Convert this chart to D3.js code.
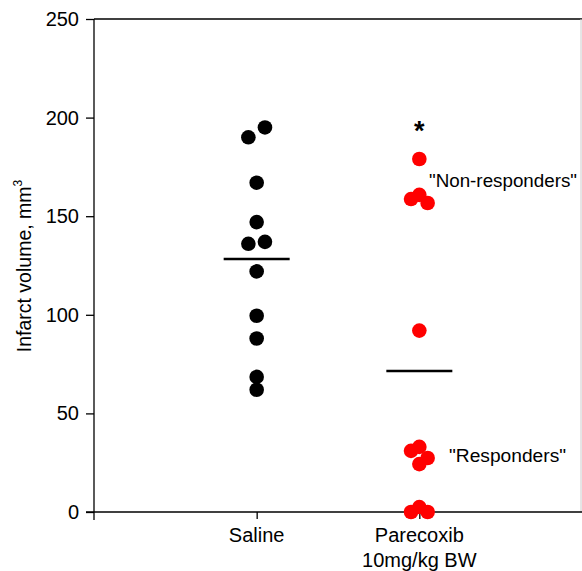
<!DOCTYPE html>
<html><head><meta charset="utf-8">
<script src="https://cdn.jsdelivr.net/npm/d3@7"></script>
<style>body{margin:0;background:#fff}svg{display:block}text{font-family:"Liberation Sans",Arial,sans-serif}</style>
</head><body>
<svg id="c" width="582" height="571"></svg>
<script>
const groups = ["Saline", "Parecoxib"];
const groupLabels = [["Saline"], ["Parecoxib", "10mg/kg BW"]];
const yTicks = [0, 50, 100, 150, 200, 250];
const salineValues = [190, 195, 167, 147, 136, 137, 122, 99.5, 88, 68.5, 62];
const salineJitter = [-1, 1, 0, 0, -1, 1, 0, 0, 0, 0, 0];
const parecoxibValues = [179, 160.8, 158.7, 156.7, 92, 31, 33, 27.4, 24.3, 0, 2.5, 0];
const parecoxibJitter = [0, 0, -1, 1, 0, -1, 0, 1, 0, -1, 0, 1];
const means = [128.3, 71.5];
const colors = ["#000000", "#ff0000"];

const svg = d3.select("#c");
const x = d3.scaleLinear().domain([0, 3]).range([94, 582]);
const y = d3.scaleLinear().domain([0, 250]).range([512, 19]);
const jit = 8.3;

svg.append("line").attr("x1", 94).attr("x2", 582).attr("y1", y(250)).attr("y2", y(250)).attr("stroke", "#000").attr("stroke-width", 1.3);
svg.append("line").attr("x1", 581).attr("x2", 581).attr("y1", y(250)).attr("y2", y(0)).attr("stroke", "#ccc").attr("stroke-width", 1);

const ya = svg.append("g").attr("transform", "translate(94,0)")
  .call(d3.axisLeft(y).tickValues(yTicks).tickSize(8).tickPadding(7).tickFormat(d3.format("d")));
ya.select(".domain").remove();
ya.append("line").attr("x1", 0).attr("x2", 0).attr("y1", y(250)).attr("y2", y(0) + 8).attr("stroke", "#000").attr("stroke-width", 1.3);
ya.selectAll(".tick line").attr("stroke-width", 1.3);
ya.selectAll(".tick text").attr("font-size", 20).attr("fill", "#000").attr("font-family", "Liberation Sans, Arial, sans-serif");

const xa = svg.append("g").attr("transform", `translate(0,${y(0)})`)
  .call(d3.axisBottom(x).tickValues([1, 2]).tickSize(7).tickFormat(() => ""));
xa.select(".domain").remove();
xa.append("line").attr("x1", 86).attr("x2", 582).attr("y1", 0).attr("y2", 0).attr("stroke", "#000").attr("stroke-width", 1.3);
xa.selectAll(".tick line").attr("stroke-width", 1.3);
groupLabels.forEach((lines, i) => {
  lines.forEach((t, j) => {
    svg.append("text").attr("x", x(i + 1)).attr("y", 542 + j * 25).attr("text-anchor", "middle")
      .attr("font-size", 20).attr("fill", "#000").text(t);
  });
});

const yl = svg.append("text").attr("transform", "translate(31,266) rotate(-90)").attr("text-anchor", "middle")
  .attr("font-size", 19.5).attr("fill", "#000");
yl.append("tspan").text("Infarct volume, mm");
yl.append("tspan").attr("font-size", 12).attr("dy", -9).text("3");

const series = [[salineValues, salineJitter], [parecoxibValues, parecoxibJitter]];
series.forEach(([vals, jt], i) => {
  svg.append("g").selectAll("circle").data(vals).join("circle")
    .attr("cx", (d, k) => x(i + 1) + jt[k] * jit)
    .attr("cy", d => y(d))
    .attr("r", 7.3)
    .attr("fill", colors[i]);
});

means.forEach((m, i) => {
  svg.append("line").attr("x1", x(i + 1) - 33).attr("x2", x(i + 1) + 33)
    .attr("y1", y(m)).attr("y2", y(m)).attr("stroke", "#000").attr("stroke-width", 2.5);
});

svg.append("text").attr("x", x(2)).attr("y", 140).attr("text-anchor", "middle").attr("font-size", 27).attr("font-weight", "bold").text("*");
svg.append("text").attr("x", 429).attr("y", 187).attr("font-size", 18.8).text("\"Non-responders\"");
svg.append("text").attr("x", 449).attr("y", 462).attr("font-size", 19.2).text("\"Responders\"");
</script>
</body></html>
